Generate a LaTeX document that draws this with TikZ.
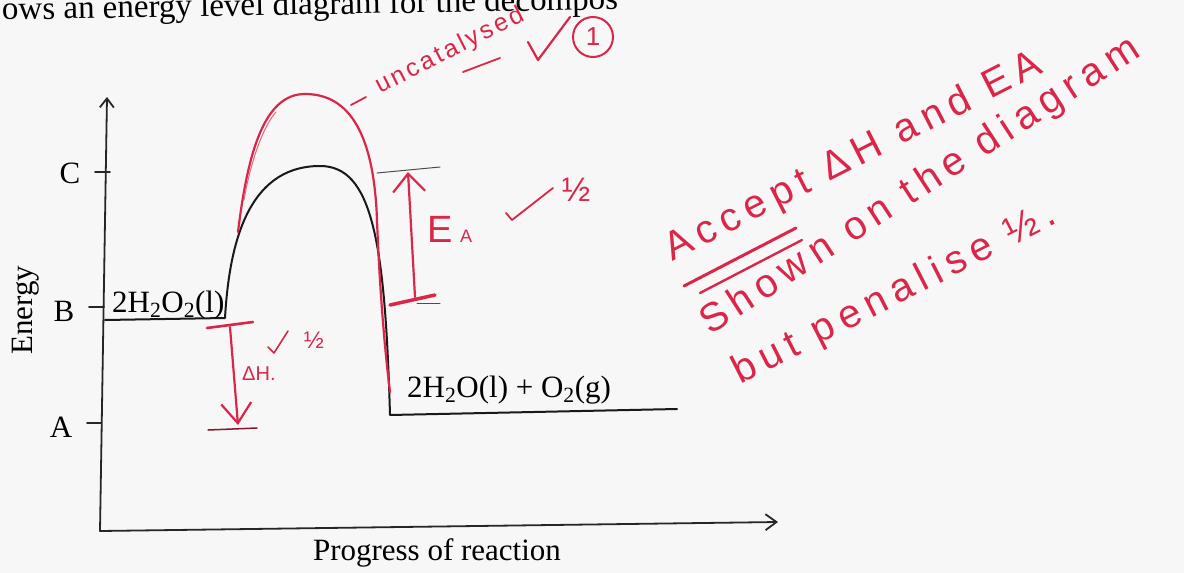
\documentclass[tikz,border=0pt]{standalone}
\usepackage{fontspec}
\setmainfont{Liberation Serif}
\newfontfamily\hand[LetterSpace=18]{Liberation Sans}
\newfontfamily\handm[LetterSpace=12]{Liberation Sans}
\newfontfamily\handn{Liberation Sans}
\usetikzlibrary{arrows.meta}
\definecolor{pen}{RGB}{218,38,72}
\definecolor{paper}{RGB}{247,247,247}
\begin{document}
\begin{tikzpicture}[x=1pt,y=-1pt, line join=round, line cap=round,
  ax/.style={line width=1.8pt, black!85},
  curve/.style={line width=2pt, black!90},
  redline/.style={draw=pen, line width=2.2pt},
  thinline/.style={line width=1pt, black!70},
  lbl/.style={font=\fontsize{31}{34}\selectfont, inner sep=0pt},
  handtxt/.style={text=pen, inner sep=0pt},
  note/.style={text=pen, font=\hand\fontsize{40}{42}\selectfont, inner sep=0pt, anchor=base west}]
\path[use as bounding box, fill=paper] (0,0) rectangle (1184,573);

% top printed line (cut off)
\node[anchor=base west, rotate=1, font=\fontsize{33}{36}\selectfont, inner sep=0pt] (top) at (2,20) {ows an energy level diagram for the decompos};

% axes
\coordinate (O) at (100,531);
\coordinate (Ytop) at (107,97);
\coordinate (Xend) at (778,522);
\draw[ax, -{Straight Barb[length=9pt,width=14pt]}] (O) -- (Ytop);
\draw[ax, -{Straight Barb[length=11pt,width=16pt]}] (O) -- (Xend);

% ticks and level letters
\coordinate (tC0) at (95,172);  \coordinate (tC1) at (110,172);
\coordinate (tB0) at (89,307);  \coordinate (tB1) at (104,307);
\coordinate (tA0) at (87,423);  \coordinate (tA1) at (101,423);
\draw[ax] (tC0) -- (tC1);
\draw[ax] (tB0) -- (tB1);
\draw[ax] (tA0) -- (tA1);
\node[lbl] (C) at (70,173) {C};
\node[lbl] (B) at (64,311) {B};
\node[lbl] (A) at (61,427) {A};
\node[lbl, rotate=90] (energy) at (26,310) {Energy};
\node[lbl] (prog) at (437,553) {Progress of reaction};

% catalysed profile (printed)
\coordinate (r0) at (105,320);
\coordinate (r1) at (225,318);
\coordinate (peak) at (320,166);
\coordinate (p0) at (390,415);
\coordinate (p1) at (677,409);
\draw[curve] (r0) -- (r1) .. controls (229,250) and (245,166) .. (peak)
  .. controls (372,166) and (385,240) .. (p0) -- (p1);
\node[lbl, anchor=base west] (react) at (112,312) {2H\textsubscript{2}O\textsubscript{2}(l)};
\node[lbl, anchor=base west] (prod) at (407,397) {2H\textsubscript{2}O(l) + O\textsubscript{2}(g)};

% uncatalysed profile (hand drawn)
\coordinate (u0) at (238,232);
\coordinate (upeak) at (305,94);
\coordinate (u1) at (390,392);
\draw[redline] (u0) .. controls (248,150) and (265,94) .. (upeak)
  .. controls (350,94) and (374,135) .. (377,220)
  .. controls (380,300) and (386,360) .. (u1);
\draw[draw=pen!70, line width=1pt] (244,200) .. controls (250,165) and (262,128) .. (276,112);
\coordinate (d0) at (351,105); \coordinate (d1) at (366,97);
\draw[redline, line width=1.8pt] (d0) -- (d1);
\node[handtxt, anchor=base west, rotate=27, font=\handm\fontsize{25}{27}\selectfont] (uncat) at (380,94) {uncatalysed};
\coordinate (s0) at (463,72); \coordinate (s1) at (500,58);
\draw[redline, line width=1.8pt] (s0) -- (s1);
\coordinate (k0) at (528,42); \coordinate (k1) at (538,60); \coordinate (k2) at (570,17);
\draw[redline] (k0) -- (k1) -- (k2);
\node[draw=pen, circle, line width=2pt, minimum size=40pt, handtxt, font=\handn\fontsize{26}{26}\selectfont] (one) at (593,37) {1};

% activation energy arrow
\coordinate (eaL) at (377,173); \coordinate (eaR) at (440,167);
\draw[thinline] (eaL) -- (eaR);
\coordinate (eaTop) at (408,172); \coordinate (eaBot) at (415,297);
\draw[redline, -{Straight Barb[length=18pt,width=32pt]}] (eaBot) -- (eaTop);
\coordinate (b0) at (390,305); \coordinate (b1) at (435,295);
\draw[redline, line width=3.5pt] (b0) -- (b1);
\coordinate (b2) at (417,303); \coordinate (b3) at (440,303);
\draw[thinline] (b2) -- (b3);
\node[handtxt, anchor=base west, font=\handn\fontsize{38}{40}\selectfont] (EA) at (427,242) {E};
\node[handtxt, anchor=base west, font=\handn\fontsize{18}{18}\selectfont] (EAs) at (460,242) {A};
\coordinate (c0) at (506,213); \coordinate (c1) at (512,220); \coordinate (c2) at (553,188);
\draw[redline, line width=1.8pt] (c0) -- (c1) -- (c2);
\node[handtxt, font=\handn\fontsize{34}{36}\selectfont] (halfA) at (576,190) {½};

% enthalpy arrow
\coordinate (h0) at (207,328); \coordinate (h1) at (253,322);
\draw[redline, line width=2.6pt] (h0) -- (h1);
\coordinate (h2) at (208,430); \coordinate (h3) at (257,428);
\draw[draw=pen!60!black, line width=1.5pt] (h2) -- (h3);
\coordinate (dhTop) at (230,327); \coordinate (dhBot) at (238,425);
\draw[redline, -{Straight Barb[length=20pt,width=30pt]}] (dhTop) -- (dhBot);
\node[handtxt, anchor=base west, font=\handn\fontsize{20}{22}\selectfont] (dH) at (242,380) {ΔH.};
\coordinate (e0) at (268,347); \coordinate (e1) at (274,353); \coordinate (e2) at (288,331);
\draw[redline, line width=1.6pt] (e0) -- (e1) -- (e2);
\node[handtxt, font=\handn\fontsize{24}{26}\selectfont] (halfH) at (314,340) {½};

% marker's note
\node[note, rotate=27] (n1) at (672,262) {Accept ΔH and EA};
\node[note, rotate=33] (n2) at (710,336) {Shown on the diagram};
\node[note, rotate=27] (n3) at (740,385) {but penalise ½.};
\coordinate (ul0) at (684,286); \coordinate (ul1) at (796,228);
\coordinate (ul2) at (700,293); \coordinate (ul3) at (802,240);
\draw[redline, line width=3pt] (ul0) -- (ul1);
\draw[redline, line width=2.4pt] (ul2) -- (ul3);
\end{tikzpicture}
\end{document}
